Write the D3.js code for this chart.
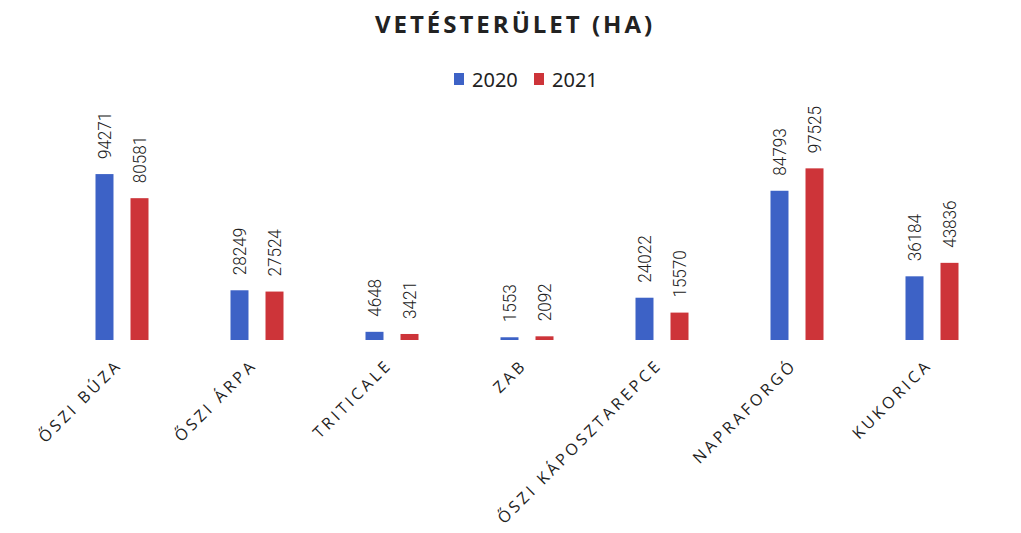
<!DOCTYPE html>
<html>
<head>
<meta charset="utf-8">
<script src="https://cdn.jsdelivr.net/npm/d3@7"></script>
<style>
  body { margin: 0; background: #fff; }
  svg { display: block; }
</style>
</head>
<body>
<script>
// data
var categories = ["ŐSZI BÚZA", "ŐSZI ÁRPA", "TRITICALE", "ZAB", "ŐSZI KÁPOSZTAREPCE", "NAPRAFORGÓ", "KUKORICA"];
var years = ["2020", "2021"];
var values2020 = [94271, 28249, 4648, 1553, 24022, 84793, 36184];
var values2021 = [80581, 27524, 3421, 2092, 15570, 97525, 43836];

var width = 1021,
    height = 533;

var colors = { "2020": "#3d62c6", "2021": "#cd3439" };

var svg = d3.select("body").append("svg")
    .attr("width", width)
    .attr("height", height);

// rows for the bars
var rows = categories.map(function(c, i) {
  return { cat: c, vals: [ { year: "2020", v: values2020[i] }, { year: "2021", v: values2021[i] } ] };
});

var x0 = d3.scaleBand()
    .domain(categories)
    .range([54.5, 999.5]);

// inner scale, relative to the group centre
var x1 = d3.scaleBand()
    .domain(years)
    .range([-26.5, 26.5])
    .paddingInner(0.486);

var y = d3.scaleLinear()
    .domain([0, 100000])
    .range([340, 164]);

// title
svg.append("text")
    .attr("x", 515)
    .attr("y", 33)
    .attr("text-anchor", "middle")
    .style("font-family", "'Open Sans', sans-serif")
    .style("font-weight", "bold")
    .style("font-size", "24px")
    .style("letter-spacing", "3px")
    .style("fill", "#222")
    .text("VETÉSTERÜLET (HA)");

// legend
var legend = svg.append("g").attr("transform", "translate(454,0)");
var li = legend.selectAll("g")
    .data(years)
  .enter().append("g")
    .attr("transform", function(d, i) { return "translate(" + (i * 80) + ",0)"; });
li.append("rect")
    .attr("y", 73)
    .attr("width", 10)
    .attr("height", 12)
    .attr("fill", function(d) { return colors[d]; });
li.append("text")
    .attr("x", 18)
    .attr("y", 87)
    .style("font-family", "'Noto Sans', sans-serif")
    .style("font-size", "20px")
    .style("fill", "#222")
    .text(function(d) { return d; });

// bars
var groups = svg.selectAll("g.grp")
    .data(rows)
  .enter().append("g")
    .attr("class", "grp")
    .attr("transform", function(d) { return "translate(" + (x0(d.cat) + x0.bandwidth() / 2) + ",0)"; });

groups.selectAll("rect")
    .data(function(d) { return d.vals; })
  .enter().append("rect")
    .attr("x", function(d) { return x1(d.year); })
    .attr("width", x1.bandwidth())
    .attr("y", function(d) { return y(d.v); })
    .attr("height", function(d) { return y(0) - y(d.v); })
    .attr("fill", function(d) { return colors[d.year]; });

// value labels, rotated and a bit condensed
groups.selectAll("text.val")
    .data(function(d) { return d.vals; })
  .enter().append("text")
    .attr("class", "val")
    .attr("transform", function(d) {
      return "translate(" + (x1(d.year) + x1.bandwidth() / 2) + "," + (y(d.v) - 15) + ") rotate(-90) scale(0.9,1)";
    })
    .attr("dy", "0.35em")
    .style("font-family", "Roboto, sans-serif")
    .style("font-weight", "300")
    .style("font-size", "19px")
    .style("fill", "#222")
    .text(function(d) { return d.v; });

// category labels, rotated 45 degrees
svg.selectAll("text.cat")
    .data(categories)
  .enter().append("text")
    .attr("class", "cat")
    .attr("transform", function(d) {
      return "translate(" + (x0(d) + x0.bandwidth() / 2 + 1) + ",366) rotate(-45)";
    })
    .attr("text-anchor", "end")
    .style("font-family", "'Open Sans', sans-serif")
    .style("font-size", "16px")
    .style("letter-spacing", "3.3px")
    .style("fill", "#222")
    .text(function(d) { return d; });
</script>
</body>
</html>
